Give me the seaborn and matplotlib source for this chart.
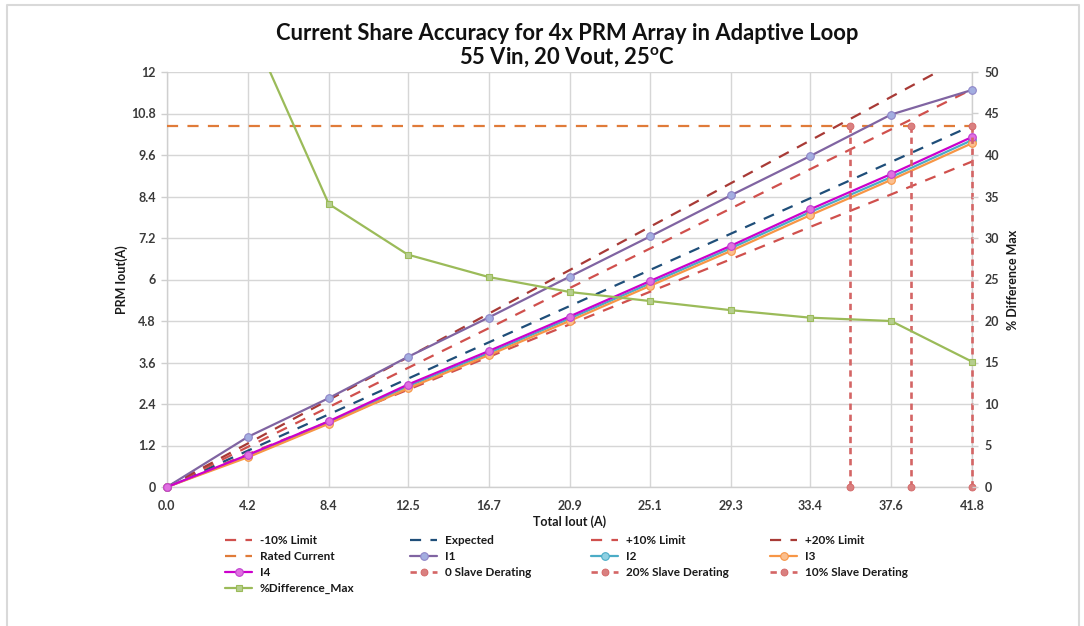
import matplotlib
matplotlib.use("Agg")
import matplotlib.pyplot as plt
import seaborn as sns
import numpy as np
from matplotlib.lines import Line2D
from matplotlib.transforms import Bbox, TransformedBbox

# ---------------- data ----------------
total_iout = [0.0, 4.2, 8.4, 12.5, 16.7, 20.9, 25.1, 29.3, 33.4, 37.6, 41.8]
x_tick_labels = ["0.0", "4.2", "8.4", "12.5", "16.7", "20.9", "25.1", "29.3", "33.4", "37.6", "41.8"]

minus10_limit = [0.0, 0.95, 1.89, 2.81, 3.76, 4.70, 5.65, 6.59, 7.52, 8.46, 9.41]
expected = [0.0, 1.05, 2.10, 3.13, 4.18, 5.23, 6.28, 7.33, 8.35, 9.40, 10.45]
plus10_limit = [0.0, 1.16, 2.31, 3.44, 4.59, 5.75, 6.90, 8.06, 9.19, 10.34, 11.50]
plus20_limit = [0.0, 1.26, 2.52, 3.75, 5.01, 6.27, 7.53, 8.79, 10.02, 11.28, 12.54]

rated_x = [0.0, 41.8]
rated_y = [10.45, 10.45]

i1 = [0.0, 1.45, 2.57, 3.76, 4.90, 6.08, 7.25, 8.44, 9.57, 10.77, 11.48]
i2 = [0.0, 0.90, 1.87, 2.91, 3.87, 4.87, 5.89, 6.91, 7.95, 8.96, 10.03]
i3 = [0.0, 0.86, 1.83, 2.85, 3.81, 4.80, 5.82, 6.83, 7.86, 8.88, 9.94]
i4 = [0.0, 0.93, 1.90, 2.96, 3.93, 4.93, 5.96, 6.98, 8.03, 9.05, 10.12]

derate0_x = [41.8, 41.8]
derate20_x = [35.47, 35.47]
derate10_x = [38.62, 38.62]
derate_y = [0.0, 10.45]

pct_diff_max = [np.nan, 56.0, 34.1, 28.0, 25.3, 23.5, 22.4, 21.3, 20.4, 20.0, 15.1]

left_ticks = [0, 1.2, 2.4, 3.6, 4.8, 6, 7.2, 8.4, 9.6, 10.8, 12]
left_tick_labels = ["0", "1.2", "2.4", "3.6", "4.8", "6", "7.2", "8.4", "9.6", "10.8", "12"]
right_ticks = [0, 5, 10, 15, 20, 25, 30, 35, 40, 45, 50]
right_tick_labels = ["0", "5", "10", "15", "20", "25", "30", "35", "40", "45", "50"]

title_line1 = "Current Share Accuracy for 4x PRM Array in Adaptive Loop"
title_line2 = r"55 Vin, 20 Vout, 25$^{\mathbf{o}}$C"

# ---------------- styling ----------------
sns.set_theme(style="white")
plt.rcParams['font.family'] = ['Lato', 'DejaVu Sans']
plt.rcParams['mathtext.fontset'] = 'custom'
plt.rcParams['mathtext.bf'] = 'Lato:bold'
plt.rcParams['mathtext.rm'] = 'Lato'

W, H = 1084, 626
fig = plt.figure(figsize=(W / 100, H / 100), dpi=100)
fig.patch.set_facecolor("white")

x0, x1, ytop, ybot = 167, 972, 72, 487
ax = fig.add_axes([x0 / W, 1 - ybot / H, (x1 - x0) / W, (ybot - ytop) / H])
ax2 = ax.twinx()

C_RED = "#d0504d"
C_DRED = "#a83a36"
C_BLUE = "#1f4e79"
C_ORANGE_R = "#e07b39"
C_PURPLE = "#8064a2"
C_CYAN = "#4bacc6"
C_ORANGE = "#f79646"
C_MAGENTA = "#cc00cc"
C_DERATE = "#d46565"
C_GREEN = "#9bbb59"

dash_main = (0, (5.0, 4.2))
dash_der = (0, (2.4, 1.8))
LW = 1.6

handles = {}

def draw(target, x, y, label, **kw):
    sns.lineplot(x=x, y=y, ax=target, estimator=None, sort=False, legend=False,
                 label=label, **kw)
    line = target.lines[-1]
    # clip vertically at the plot area but let edge markers overflow sideways
    line.set_clip_box(TransformedBbox(Bbox([[-0.03, -0.03], [1.03, 1.0]]), target.transAxes))
    line.set_zorder(3)
    handles[label] = line

draw(ax, total_iout, minus10_limit, "-10% Limit", color=C_RED, lw=LW, linestyle=dash_main)
draw(ax, total_iout, expected, "Expected", color=C_BLUE, lw=LW, linestyle=dash_main)
draw(ax, total_iout, plus10_limit, "+10% Limit", color=C_RED, lw=LW, linestyle=dash_main)
draw(ax, total_iout, plus20_limit, "+20% Limit", color=C_DRED, lw=LW, linestyle=dash_main)
draw(ax, rated_x, rated_y, "Rated Current", color=C_ORANGE_R, lw=LW, linestyle=dash_main)
draw(ax, total_iout, i1, "I1", color=C_PURPLE, lw=LW, marker="o", markersize=5.5,
     markerfacecolor="#a3aee0", markeredgecolor="#8f86c8", markeredgewidth=0.8)
draw(ax, total_iout, i2, "I2", color=C_CYAN, lw=LW, marker="o", markersize=5.5,
     markerfacecolor="#8fd0e2", markeredgecolor=C_CYAN, markeredgewidth=0.8)
draw(ax, total_iout, i3, "I3", color=C_ORANGE, lw=LW, marker="o", markersize=5.5,
     markerfacecolor="#fbbf8e", markeredgecolor=C_ORANGE, markeredgewidth=0.8)
draw(ax, total_iout, i4, "I4", color=C_MAGENTA, lw=LW, marker="o", markersize=5.5,
     markerfacecolor="#e070e0", markeredgecolor="#c040d0", markeredgewidth=0.8)
for dx, lab in [(derate0_x, "0 Slave Derating"), (derate20_x, "20% Slave Derating"),
                (derate10_x, "10% Slave Derating")]:
    draw(ax, dx, derate_y, lab, color=C_DERATE, lw=1.9, linestyle=dash_der,
         marker="o", markersize=5, markerfacecolor="#d98080",
         markeredgecolor=C_DERATE, markeredgewidth=0.6)
draw(ax2, total_iout, pct_diff_max, "%Difference_Max", color=C_GREEN, lw=LW,
     marker="s", markersize=5, markerfacecolor="#b6cf8e",
     markeredgecolor=C_GREEN, markeredgewidth=0.8)

# ---------------- axes ----------------
ax.set_xlim(0, 41.8)
ax.set_ylim(0, 12)
ax2.set_ylim(0, 50)
ax.set_xticks(total_iout)
ax.set_xticklabels(x_tick_labels)
ax.set_yticks(left_ticks)
ax.set_yticklabels(left_tick_labels)
ax2.set_yticks(right_ticks)
ax2.set_yticklabels(right_tick_labels)

ax.grid(True, color="#d6d6d6", lw=1.0)
ax.set_axisbelow(True)
ax2.grid(False)

GRID = "#cfcfcf"
for a in (ax, ax2):
    for s in a.spines.values():
        s.set_color(GRID)
        s.set_linewidth(1.0)
        s.set_zorder(1.5)
    a.spines["top"].set_visible(False)
# right border line drawn by the primary axes (below the data lines)
ax2.spines["right"].set_visible(False)
ax2.spines["left"].set_visible(False)
ax2.spines["bottom"].set_visible(False)

TICK_FS = 9
ax.tick_params(axis="both", which="major", length=4, width=1.0, color=GRID,
               labelsize=TICK_FS, labelcolor="#3a3a3a", pad=4, direction="out")
ax.tick_params(axis="x", pad=5)
ax2.tick_params(axis="y", length=4, width=1.0, color=GRID, labelsize=TICK_FS,
                labelcolor="#3a3a3a", pad=5, direction="out")
for lbl in ax.get_xticklabels() + ax.get_yticklabels() + ax2.get_yticklabels():
    lbl.set_fontweight("bold")

LAB_FS = 9
ax.set_xlabel("Total Iout (A)", fontsize=LAB_FS, fontweight="bold", color="#1a1a1a")
ax.xaxis.set_label_coords(0.5, -(515 - ybot) / (ybot - ytop))
ax.set_ylabel("PRM Iout(A)", fontsize=LAB_FS, fontweight="bold", color="#1a1a1a")
ax.yaxis.set_label_coords(-(167 - 128) / (x1 - x0), 0.5)
ax2.set_ylabel("% Difference Max", fontsize=LAB_FS, fontweight="bold", color="#1a1a1a")
ax2.yaxis.set_label_coords(1 + (1007 - x1) / (x1 - x0), 0.5)

# ---------------- title ----------------
fig.text(567 / W, 1 - 33 / H, title_line1, ha="center", va="center",
         fontsize=15.8, fontweight="bold", color="#111111")
fig.text(567 / W, 1 - 57 / H, title_line2, ha="center", va="center",
         fontsize=15.8, fontweight="bold", color="#111111")

# ---------------- legend (4 columns) ----------------
columns = [["-10% Limit", "Rated Current", "I4", "%Difference_Max"],
           ["Expected", "I1", "0 Slave Derating"],
           ["+10% Limit", "I2", "20% Slave Derating"],
           ["+20% Limit", "I3", "10% Slave Derating"]]
col_x = [225, 410, 591, 770]
for cx, labs in zip(col_x, columns):
    leg = fig.legend([handles[l] for l in labs], labs, loc="upper left",
                     bbox_to_anchor=(cx / W, 1 - 535 / H), frameon=False,
                     fontsize=8.5, handlelength=2.3, handletextpad=0.65,
                     labelspacing=0.42, borderpad=0, borderaxespad=0)
    for t in leg.get_texts():
        t.set_color("#1a1a1a")
        t.set_fontweight("bold")

# ---------------- outer border ----------------
fig.add_artist(Line2D([7 / W, 7 / W, 1079 / W, 1079 / W], [0, 1 - 5 / H, 1 - 5 / H, 0],
                      transform=fig.transFigure, color="#d9d9d9", lw=1.5))

fig.savefig("out.png", dpi=100, facecolor="white")
